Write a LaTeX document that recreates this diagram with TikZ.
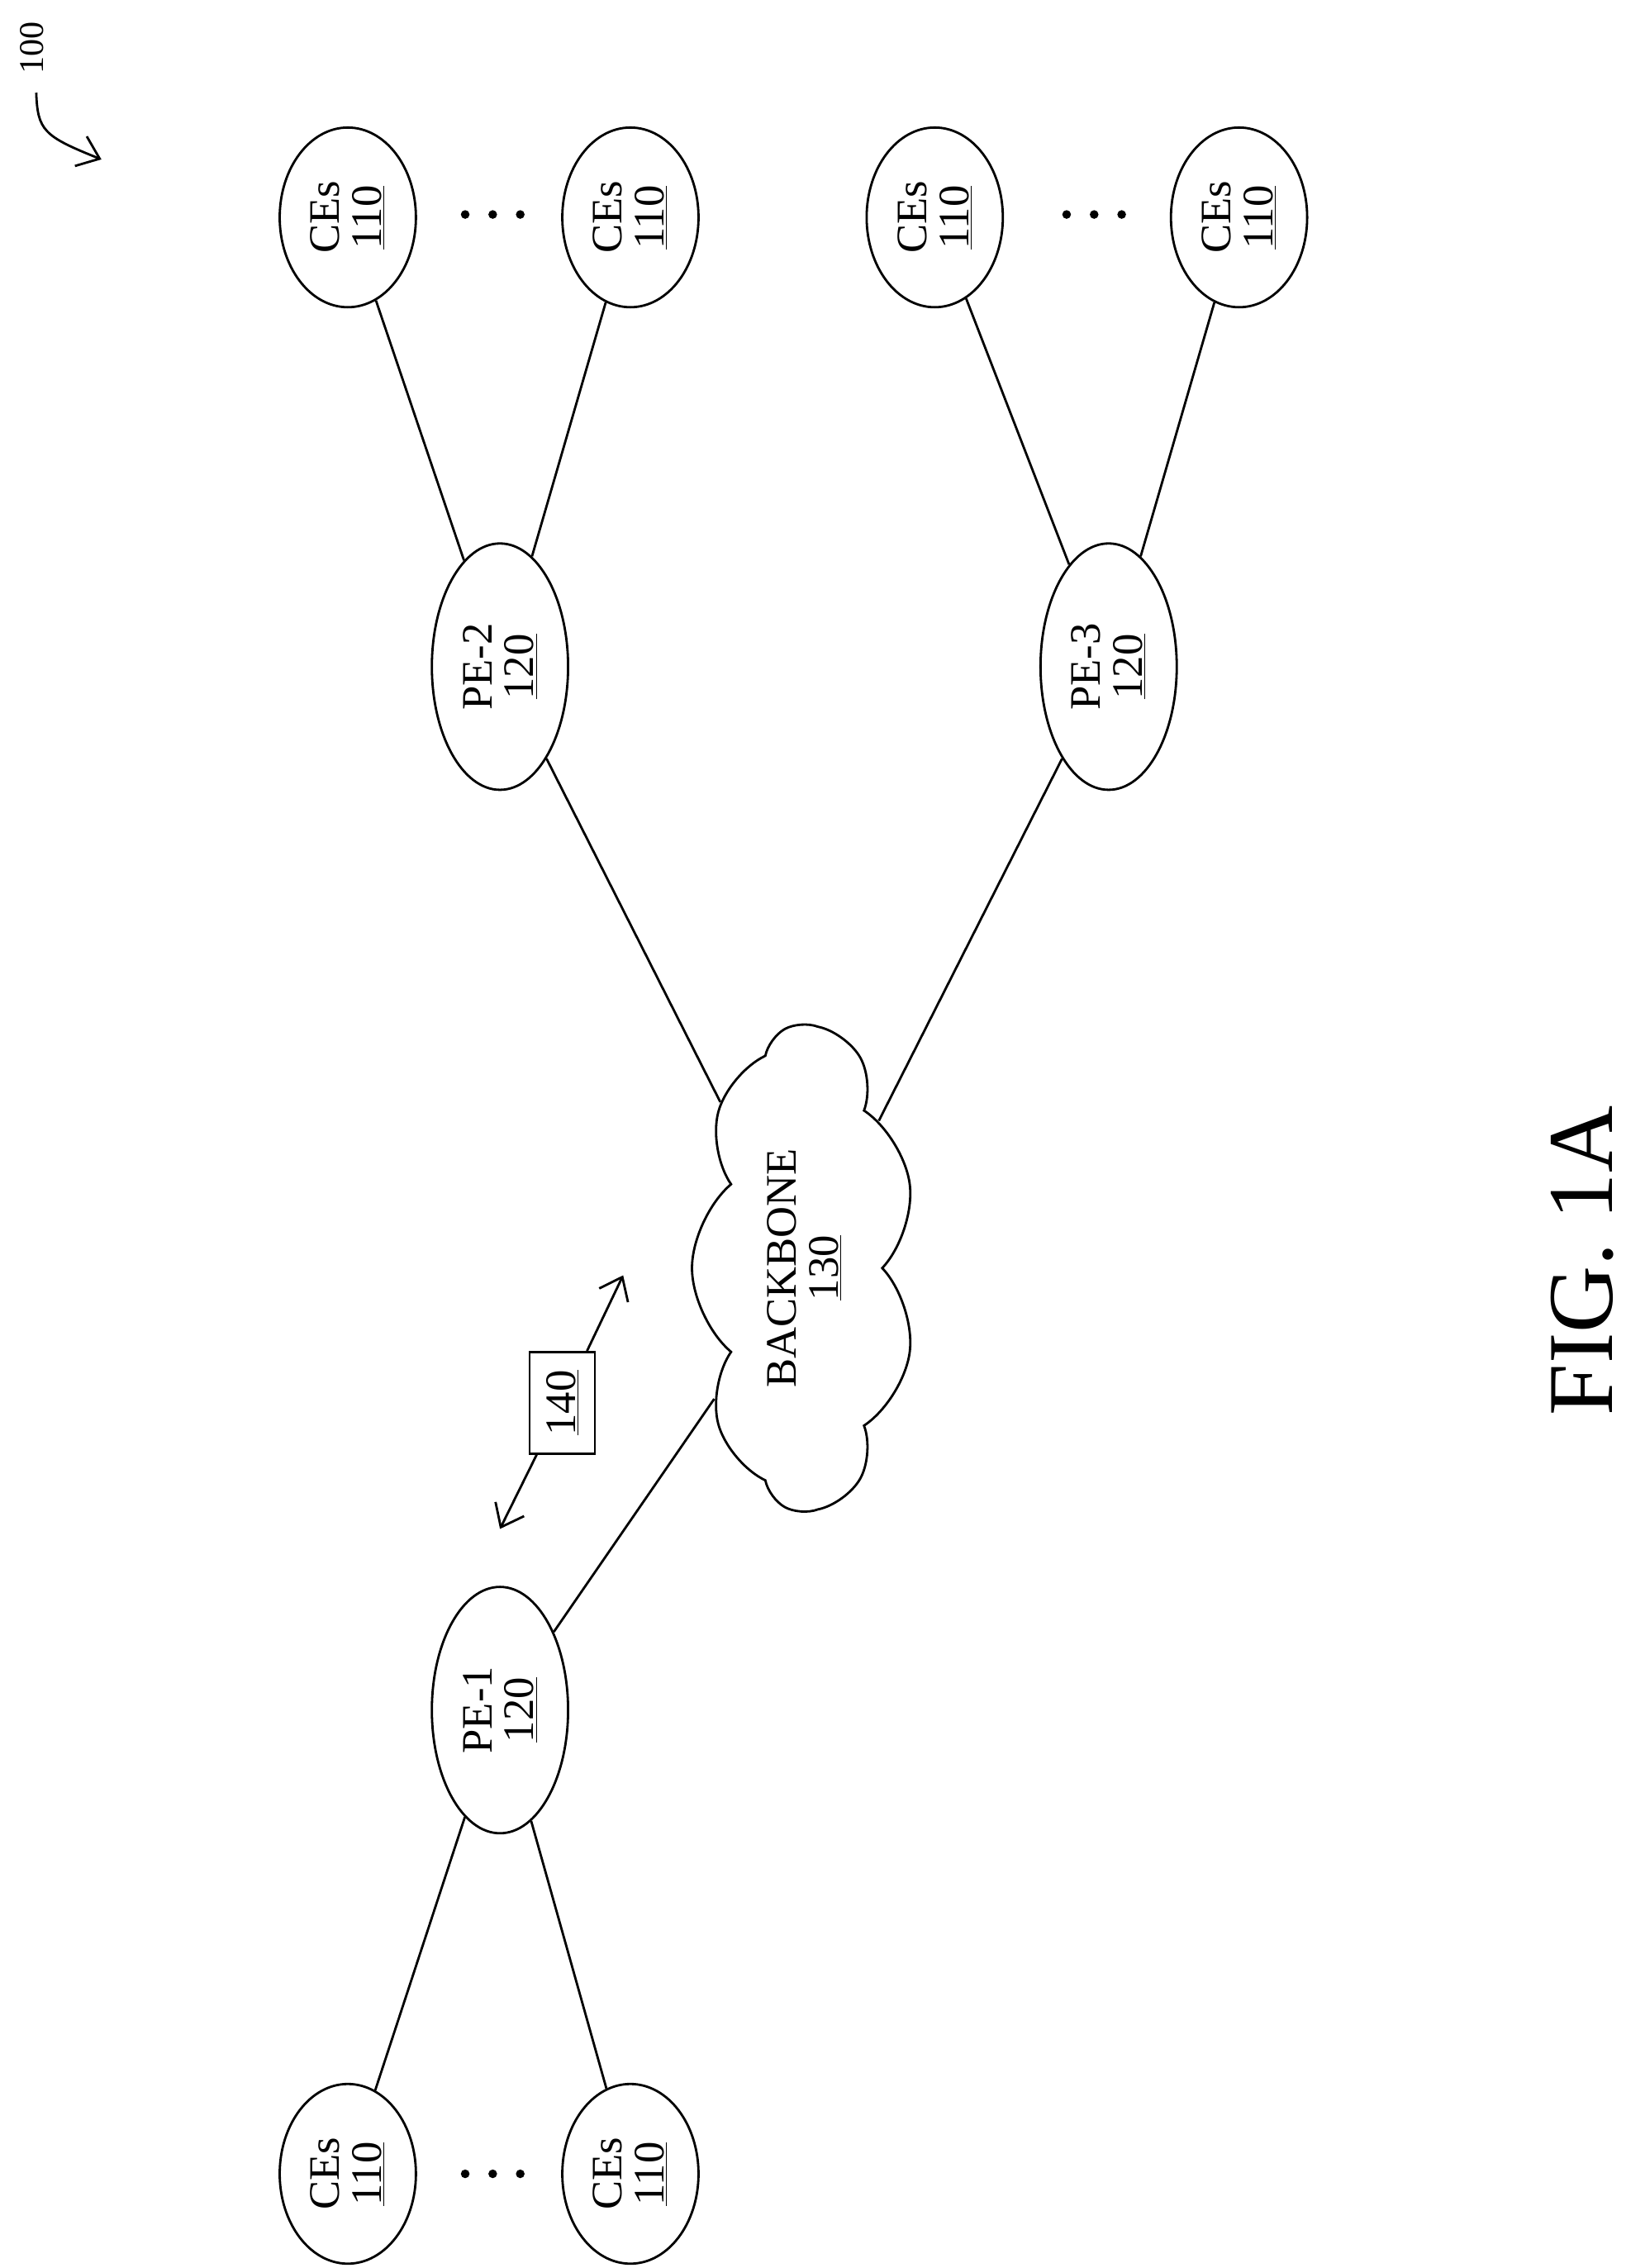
\documentclass[tikz,border=0pt]{standalone}
\usepackage{fontspec}
\setmainfont{Liberation Serif}
\usetikzlibrary{shapes.geometric,shapes.symbols,arrows.meta}

\tikzset{every picture/.style={line width=1.6pt},
  ce/.style={draw,ellipse,rotate=90,minimum width=124pt,minimum height=94pt,inner sep=0pt,align=center,font=\fontsize{30}{29}\selectfont},
  pe/.style={draw,ellipse,rotate=90,minimum width=170pt,minimum height=94pt,inner sep=0pt,align=center,font=\fontsize{30}{29}\selectfont},
  dot/.style={circle,fill,inner sep=0pt,minimum size=6pt},
  tip/.style={-{Straight Barb[length=14pt,width=22pt,line width=1.6pt]}}}

\begin{document}
\begin{tikzpicture}[x=1pt,y=1pt,yscale=-1]
	\useasboundingbox (0,0) rectangle (1135,1565);
	
	% ref label
	\node[rotate=90,font=\fontsize{24}{24}\selectfont] (ref) at (22,33) {100};
	\coordinate (refa) at (25,64);
	\coordinate (refb) at (70,110);
	\draw[tip] (refa) .. controls (26,90) and (30,94) .. (refb);
	
	% customer edges
	\node[ce] (ce1) at (240,150) {CEs\\\underline{110}};
	\node[ce] (ce2) at (435,150) {CEs\\\underline{110}};
	\node[ce] (ce3) at (645,150) {CEs\\\underline{110}};
	\node[ce] (ce4) at (855,150) {CEs\\\underline{110}};
	\node[ce] (ce5) at (240,1500) {CEs\\\underline{110}};
	\node[ce] (ce6) at (435,1500) {CEs\\\underline{110}};
	
	% dots
	\foreach \x in {321,340,359} \node[dot] at (\x,148) {};
	\foreach \x in {736,755,774} \node[dot] at (\x,148) {};
	\foreach \x in {321,340,359} \node[dot] at (\x,1500) {};
	
	% provider edges
	\node[pe] (pe2) at (345,460) {PE-2\\\underline{120}};
	\node[pe] (pe3) at (765,460) {PE-3\\\underline{120}};
	\node[pe] (pe1) at (345,1180) {PE-1\\\underline{120}};
	
	% backbone
	\node[draw,cloud,cloud puffs=9,cloud puff arc=100,aspect=2.2,rotate=90,minimum width=335pt,minimum height=155pt,inner sep=0pt,align=center,font=\fontsize{30}{29}\selectfont] (bb) at (555,875) {BACKBONE\\\underline{130}};
	
	% links
	\draw (ce1) -- (pe2);
	\draw (ce2) -- (pe2);
	\draw (ce3) -- (pe3);
	\draw (ce4) -- (pe3);
	\draw (pe2) -- (bb);
	\draw (pe3) -- (bb);
	\draw (pe1) -- (bb);
	\draw (ce5) -- (pe1);
	\draw (ce6) -- (pe1);
	
	% message
	\node[draw,rotate=90,minimum width=70pt,minimum height=45pt,inner sep=0pt,font=\fontsize{30}{29}\selectfont] (msg) at (388,968) {\underline{140}};
	\coordinate (msga) at (345,1055);
	\coordinate (msgb) at (430,880);
	\draw[tip] (msg) -- (msga);
	\draw[tip] (msg) -- (msgb);
	
	% caption
	\node[rotate=90,font=\fontsize{64}{64}\selectfont] (fig) at (1092,870) {FIG. 1A};
\end{tikzpicture}
\end{document}
